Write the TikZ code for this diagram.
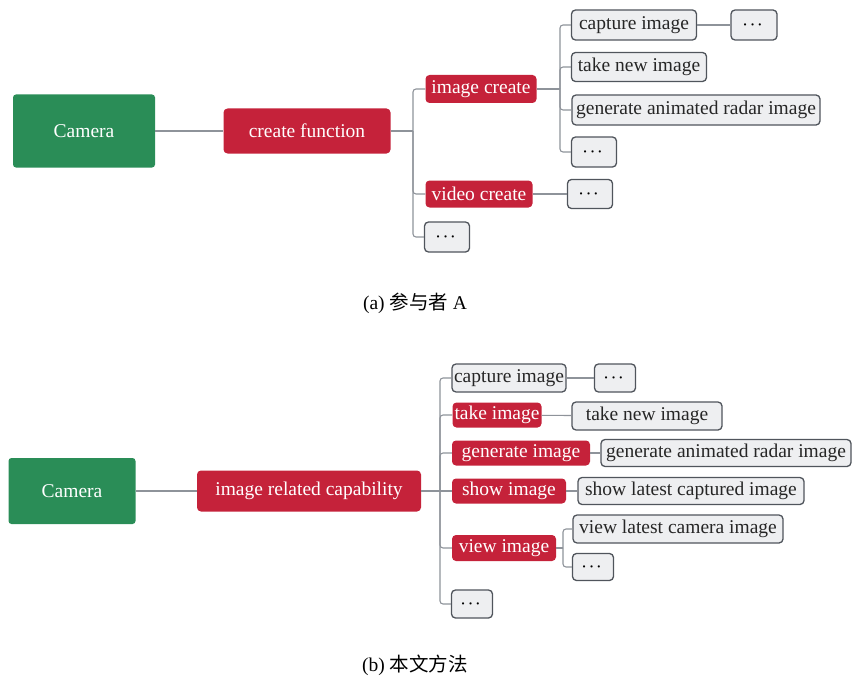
\documentclass[tikz,border=0pt]{standalone}
\usepackage{fontspec}
\setmainfont{Liberation Serif}
\newfontfamily\cjk{Noto Sans CJK SC}
\definecolor{camgreen}{HTML}{2A8D57}
\definecolor{funcred}{HTML}{C5223A}
\definecolor{leafgray}{HTML}{EEEFF1}
\definecolor{leafline}{HTML}{50555C}
\definecolor{connline}{HTML}{8E939A}
\newcommand{\mdots}{$\boldsymbol{\cdots}$}
\tikzset{
  cam/.style={fill=camgreen, text=white, rounded corners=3pt, inner sep=0pt},
  func/.style={fill=funcred, text=white, rounded corners=4pt, inner xsep=1pt, inner ysep=0pt},
  leaf/.style={fill=leafgray, draw=leafline, line width=1.3pt, rounded corners=4pt, text=black!85, inner xsep=1pt, inner ysep=0pt},
  dots/.style={leaf, text=black, font=\fontsize{15}{17}\selectfont},
  conn/.style={draw=connline, line width=1.1pt, rounded corners=3pt},
  capt/.style={font=\fontsize{19.5}{22}\selectfont}
}
\usepackage{amsmath}
\begin{document}
\begin{tikzpicture}[x=1pt, y=-1pt, font=\fontsize{19.5}{22}\selectfont]
  \useasboundingbox (0,0) rectangle (853,682);
  % (a) participant A
  \node[cam, minimum width=142, minimum height=73] (camA) at (84,131) {Camera};
  \node[func, minimum width=167, minimum height=45] (cfA) at (307,131) {create function};
  \node[func, minimum width=111, minimum height=28] (icA) at (481,89) {image create};
  \node[func, minimum width=107, minimum height=27] (vcA) at (479,194) {video create};
  \node[dots, minimum width=45, minimum height=30] (dotsA) at (447,237) {\mdots};

  \node[leaf, minimum width=125, minimum height=30] (capA) at (634,25) {capture image};
  \node[dots, minimum width=46, minimum height=30] (moreA) at (754,25) {\mdots};
  \node[leaf, minimum width=135, minimum height=29] (takeA) at (639,67) {take new image};
  \node[leaf, minimum width=248, minimum height=30] (genA) at (696,110) {generate animated radar image};
  \node[dots, minimum width=45, minimum height=30] (dotsB) at (594,152) {\mdots};
  \node[dots, minimum width=45, minimum height=29] (vmoreA) at (590,194) {\mdots};

  \coordinate (jA) at (413,131);
  \coordinate (jB) at (560,89);
  \draw[conn] (camA) -- (cfA);
  \draw[conn] (cfA.east) -- (jA);
  \draw[conn] (jA) |- (icA.west);
  \draw[conn] (jA) |- (vcA.west);
  \draw[conn] (jA) |- (dotsA.west);
  \draw[conn] (icA.east) -- (jB);
  \draw[conn] (jB) |- (capA.west);
  \draw[conn] (jB) |- (takeA.west);
  \draw[conn] (jB) |- (genA.west);
  \draw[conn] (jB) |- (dotsB.west);
  \draw[conn] (capA) -- (moreA);
  \draw[conn] (vcA) -- (vmoreA);

  \node[capt] (captA) at (415,303) {(a) {\cjk 参与者} A};

  % (b) our method
  \node[cam, minimum width=127, minimum height=66] (camB) at (72,491) {Camera};
  \node[func, minimum width=224, minimum height=41] (irc) at (309,491) {image related capability};

  \node[leaf, minimum width=114, minimum height=28] (capB) at (509,378) {capture image};
  \node[dots, minimum width=41, minimum height=28] (moreB) at (615,378) {\mdots};
  \node[func, minimum width=89, minimum height=25] (takeB) at (497,415) {take image};
  \node[leaf, minimum width=150, minimum height=28] (takeNewB) at (647,416) {take new image};
  \node[func, minimum width=138, minimum height=25] (genB) at (521,453) {generate image};
  \node[leaf, minimum width=250, minimum height=27] (genAnimB) at (726,453) {generate animated radar image};
  \node[func, minimum width=114, minimum height=25] (showB) at (509,491) {show image};
  \node[leaf, minimum width=226, minimum height=27] (showLatB) at (691,491) {show latest captured image};
  \node[func, minimum width=104, minimum height=26] (viewB) at (504,548) {view image};
  \node[leaf, minimum width=210, minimum height=28] (viewLatB) at (678,529) {view latest camera image};
  \node[dots, minimum width=41, minimum height=27] (dotsC) at (593,567) {\mdots};
  \node[dots, minimum width=41, minimum height=28] (dotsD) at (472,604) {\mdots};

  \coordinate (jC) at (440,491);
  \coordinate (jD) at (563,548);
  \draw[conn] (camB) -- (irc);
  \draw[conn] (irc.east) -- (jC);
  \draw[conn] (jC) |- (capB.west);
  \draw[conn] (jC) |- (takeB.west);
  \draw[conn] (jC) |- (genB.west);
  \draw[conn] (jC) -- (showB.west);
  \draw[conn] (jC) |- (viewB.west);
  \draw[conn] (jC) |- (dotsD.west);
  \draw[conn] (capB) -- (moreB);
  \draw[conn] (takeB) -- (takeNewB);
  \draw[conn] (genB) -- (genAnimB);
  \draw[conn] (showB) -- (showLatB);
  \draw[conn] (viewB.east) -- (jD);
  \draw[conn] (jD) |- (viewLatB.west);
  \draw[conn] (jD) |- (dotsC.west);

  \node[capt] (captB) at (415,665) {(b) {\cjk 本文方法}};
\end{tikzpicture}
\end{document}
